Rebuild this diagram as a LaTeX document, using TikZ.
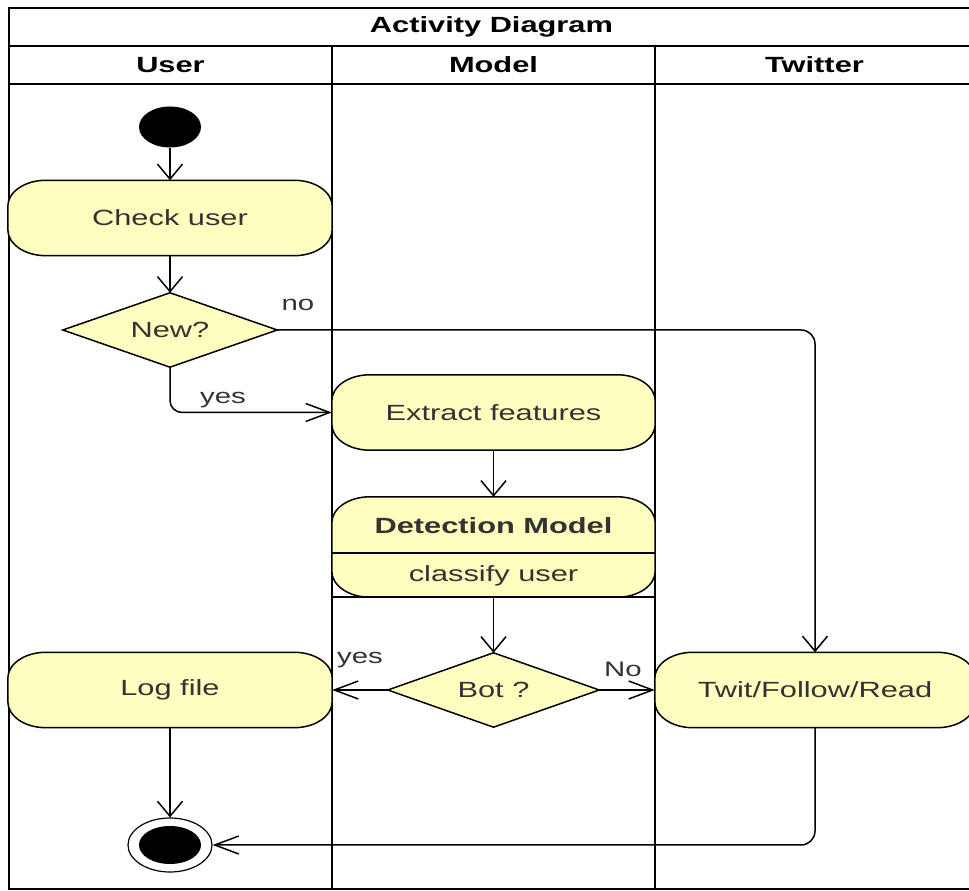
\documentclass[tikz,border=0pt]{standalone}
\usepackage{fontspec}
\setmainfont{Liberation Sans}
\usetikzlibrary{arrows.meta,shapes.geometric}
\pgfdeclarelayer{background}
\pgfsetlayers{background,main}
\definecolor{fillc}{HTML}{FFFFC0}
\definecolor{txtc}{HTML}{333333}
\newcommand\sx[1]{\scalebox{1.4}[1]{#1}}
\newcommand\rshape[3]{%
  \path[shp] ([xshift=#2pt]#1.north west) -- ([xshift=-#2pt]#1.north east)
    arc[start angle=90,end angle=0,x radius=#2pt,y radius=#3pt]
    -- ([yshift=#3pt]#1.south east)
    arc[start angle=0,end angle=-90,x radius=#2pt,y radius=#3pt]
    -- ([xshift=#2pt]#1.south west)
    arc[start angle=-90,end angle=-180,x radius=#2pt,y radius=#3pt]
    -- ([yshift=-#3pt]#1.north west)
    arc[start angle=180,end angle=90,x radius=#2pt,y radius=#3pt]
    -- cycle;}
\tikzset{
  shp/.style={draw=black, fill=fillc, line width=1.5pt},
  box/.style={draw=none, inner sep=0pt, text=txtc, font=\fontsize{22}{26}\selectfont},
  hdr/.style={inner sep=0pt, text=black, font=\fontsize{22}{26}\selectfont\bfseries},
  lbl/.style={inner sep=0pt, text=txtc, font=\fontsize{21}{25}\selectfont},
  lane/.style={draw=black, line width=1.8pt},
  conn/.style={draw=black, line width=1.5pt},
  arrV/.style={-{Straight Barb[length=15pt,width=25pt]}},
  arrH/.style={-{Straight Barb[length=24pt,width=18pt]}}
}
\begin{document}
\begin{tikzpicture}[x=1pt,y=1pt]
\useasboundingbox (0,0) rectangle (969,891);

% header texts
\node[hdr] (title) at (491.5,864) {\sx{Activity Diagram}};
\node[hdr] (huser) at (170.5,826) {\sx{User}};
\node[hdr] (hmodel) at (493.5,826) {\sx{Model}};
\node[hdr] (htwit) at (814.5,826) {\sx{Twitter}};

% nodes
\node[ellipse, fill=black, minimum width=62pt, minimum height=41pt, inner sep=0pt] (init) at (170,764) {};
\node[box, minimum width=324pt, minimum height=75pt] (check) at (170,673) {\sx{Check user}};
\node[box, minimum width=214pt, minimum height=74pt] (new) at (170,561) {\sx{New?}};
\node[box, minimum width=323pt, minimum height=75pt] (extract) at (493.5,478.5) {\sx{Extract features}};
\node[box, minimum width=323pt, minimum height=100pt] (det) at (493.5,344) {};
\node[box, font=\fontsize{22}{26}\selectfont\bfseries] (dett) at (493.5,365) {\sx{Detection Model}};
\node[box] (dets) at (493.5,315) {\sx{classify user}};
\node[box, minimum width=211pt, minimum height=74pt] (bot) at (493.5,201) {\sx{Bot ?}};
\node[box, minimum width=324pt, minimum height=75pt] (log) at (170,201) {\sx{Log file}};
\node[box, minimum width=320pt, minimum height=75pt] (twit) at (815,201) {\sx{Twit/Follow/Read}};
\node[ellipse, draw=black, line width=1.2pt, fill=white, minimum width=84pt, minimum height=54pt, inner sep=0pt] (final) at (170,46) {};
\node[ellipse, fill=black, minimum width=62pt, minimum height=38pt, inner sep=0pt] (finalin) at (170,46) {};

% labels
\node[lbl] (lno) at (298,586) {\sx{no}};
\node[lbl] (lyes) at (223,491) {\sx{yes}};
\node[lbl] (lyes2) at (360,231) {\sx{yes}};
\node[lbl] (lNo) at (623,222) {\sx{No}};

\begin{pgfonlayer}{background}
  \fill[white] (0,0) rectangle (969,891);
  % swimlane frame
  \draw[lane] (9,2) rectangle (974,883);
  \draw[lane] (9,845) -- (974,845);
  \draw[lane] (9,807) -- (974,807);
  \draw[lane] (332,845) -- (332,2);
  \draw[lane] (655,845) -- (655,2);
  % shapes
  \rshape{check}{38}{26}
  \rshape{extract}{38}{26}
  \rshape{det}{38}{26}
  \rshape{log}{38}{26}
  \rshape{twit}{38}{26}
  \path[shp] (new.north) -- (new.east) -- (new.south) -- (new.west) -- cycle;
  \path[shp] (bot.north) -- (bot.east) -- (bot.south) -- (bot.west) -- cycle;
  \draw[line width=1.5pt] (det.west |- 0,338) -- (det.east |- 0,338);
  \draw[line width=1.5pt] (det.south west) -- (det.south east);
\end{pgfonlayer}

% connectors
\draw[conn,arrV] (init) -- (check);
\draw[conn,arrV] (check) -- (new);
\draw[conn,arrV,rounded corners=14pt] (new.east) -| (twit.north);
\draw[conn,arrH,rounded corners=12pt] (new.south) |- (extract.west);
\draw[conn,arrV] (extract) -- (det);
\draw[conn,arrV] (det) -- (bot);
\draw[conn,arrH] (bot) -- (log);
\draw[conn,arrH] (bot) -- (twit);
\draw[conn,arrV] (log) -- (final);
\draw[conn,arrH,rounded corners=14pt] (twit.south) |- (final.east);
\end{tikzpicture}
\end{document}
